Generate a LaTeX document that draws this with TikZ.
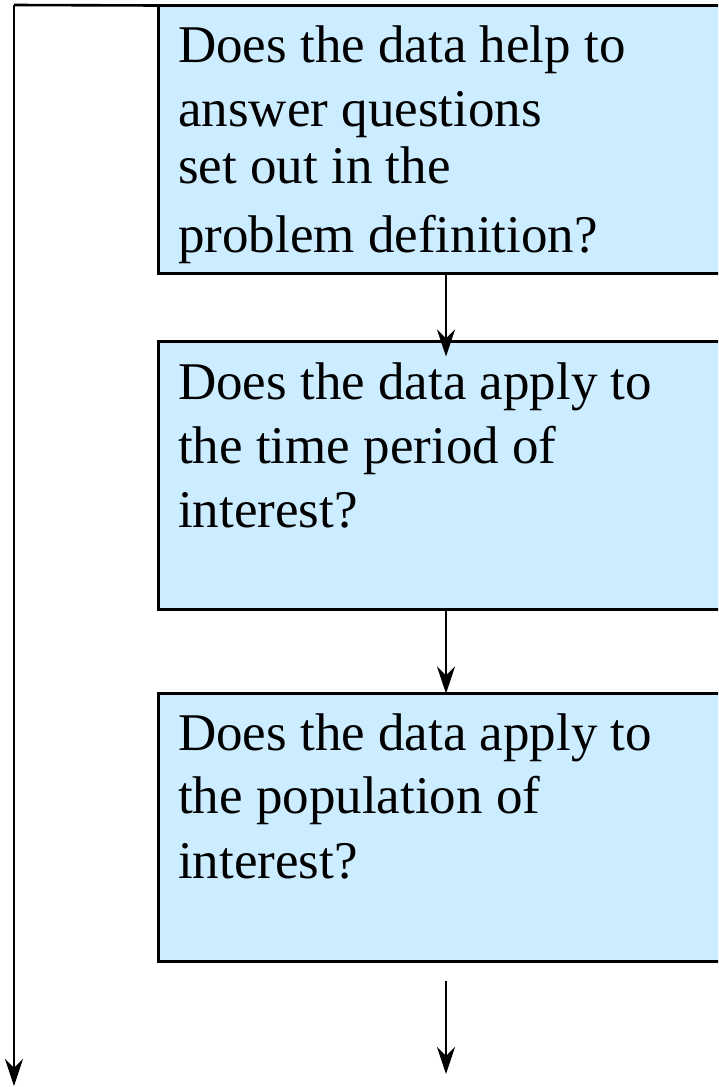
\documentclass[tikz,border=0pt]{standalone}
\usepackage{fontspec}
\setmainfont{Liberation Serif}
\usetikzlibrary{arrows.meta,calc}
\definecolor{qfill}{RGB}{204,236,255}
\begin{document}
\begin{tikzpicture}[x=1pt,y=-1pt,
  qbox/.style={draw=black,line width=3pt,fill=qfill,inner sep=0pt,outer sep=0pt,
    minimum width=576pt,minimum height=268pt},
  qline/.style={anchor=base west,inner sep=0pt,font=\fontsize{53}{63}\selectfont},
  link/.style={line width=2.6pt,-{Stealth[length=27pt,width=18pt,inset=9pt]}},
  wire/.style={line width=2.6pt}]
\useasboundingbox (0,0) rectangle (718,1087);
\clip (0,0) rectangle (718,1087);

% question boxes
\node[qbox] (q1) at (446,139.5) {};
\node[qbox] (q2) at (446,475.5) {};
\node[qbox] (q3) at (446,827.5) {};

% question texts
\node[qline] (t11) at (178,62)  {Does the data help to};
\node[qline] (t12) at (178,126) {answer questions};
\node[qline] (t13) at (178,183) {set out in the};
\node[qline] (t14) at (178,252) {problem definition?};

\node[qline] (t21) at (178,399) {Does the data apply to};
\node[qline] (t22) at (178,463) {the time period of};
\node[qline] (t23) at (178,527) {interest?};

\node[qline] (t31) at (178,750) {Does the data apply to};
\node[qline] (t32) at (178,813) {the population of};
\node[qline] (t33) at (178,878) {interest?};

% flow between the questions
\coordinate (in2) at ($(q2.north)+(0,15)$);
\draw[link] (q1.south) -- (in2);
\draw[link] (q2.south) -- (q3.north);
\coordinate (out3a) at (446,981);
\coordinate (out3b) at (446,1074);
\draw[link] (out3a) -- (out3b);

% bypass path down the left side
\coordinate (bend) at (14,5);
\coordinate (exit) at (14,1086);
\draw[wire] (q1.north west) -- (bend);
\draw[link] (bend) -- (exit);
\end{tikzpicture}
\end{document}
